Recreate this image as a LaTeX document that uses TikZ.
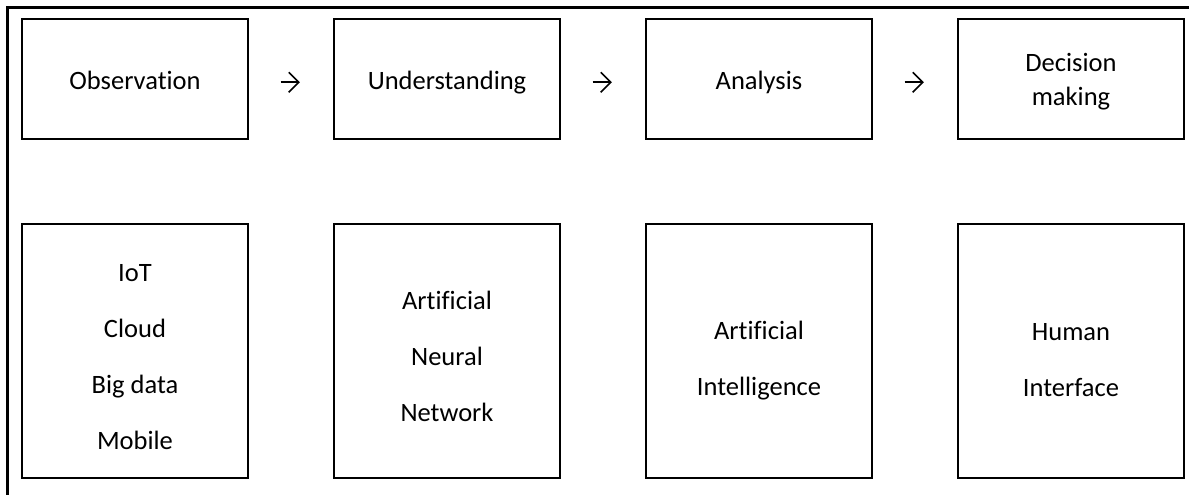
\documentclass[tikz,border=0pt]{standalone}
\usepackage{fontspec}
\setmainfont{Carlito}[Ligatures={NoCommon,NoContextual}]
\usetikzlibrary{arrows.meta}
\newcommand{\dn}[2]{\raisebox{-#1pt}[\height][\depth]{\begin{tabular}{@{}c@{}}#2\end{tabular}}}
\tikzset{
  topbox/.style={draw=black, line width=1.3pt, minimum width=226pt, minimum height=120pt,
    inner sep=0pt, align=center, font=\fontsize{26.5}{34}\selectfont},
  botbox/.style={draw=black, line width=1.3pt, minimum width=226pt, minimum height=254pt,
    inner sep=0pt, align=center, font=\fontsize{26.5}{56}\selectfont},
  flowarrow/.style={line width=1.6pt, -{Straight Barb[length=10pt,width=20pt,line width=1.6pt]},
    shorten <=32pt, shorten >=33.5pt},
}
\begin{document}
\begin{tikzpicture}[x=1pt,y=-1pt]
\useasboundingbox (0,0) rectangle (1189,495);
\fill[white] (0,0) rectangle (1189,495);
% outer frame (left and top edges)
\draw[line width=3pt] (7.5,495) -- (7.5,7.5) -- (1189,7.5);
% top row
\node[topbox] (obs) at (135,79) {\dn{4}{Observation}};
\node[topbox] (und) at (447,79) {\dn{4}{Understanding}};
\node[topbox] (ana) at (759,79) {\dn{4}{Analysis}};
\node[topbox] (dec) at (1071,79) {\dn{3}{Decision\\making}};
% bottom row
\node[botbox] (tech) at (135,351) {\dn{3}{IoT\\Cloud\\Big data\\Mobile}};
\node[botbox] (ann) at (447,351) {\dn{3}{Artificial\\Neural\\Network}};
\node[botbox] (ai) at (759,351) {\dn{5}{Artificial\\Intelligence}};
\node[botbox] (hi) at (1071,351) {\dn{6}{Human\\Interface}};
% arrows
\draw[flowarrow] ([yshift=-3.3pt]obs.east) -- ([yshift=-3.3pt]und.west);
\draw[flowarrow] ([yshift=-3.3pt]und.east) -- ([yshift=-3.3pt]ana.west);
\draw[flowarrow] ([yshift=-3.3pt]ana.east) -- ([yshift=-3.3pt]dec.west);
\end{tikzpicture}
\end{document}
